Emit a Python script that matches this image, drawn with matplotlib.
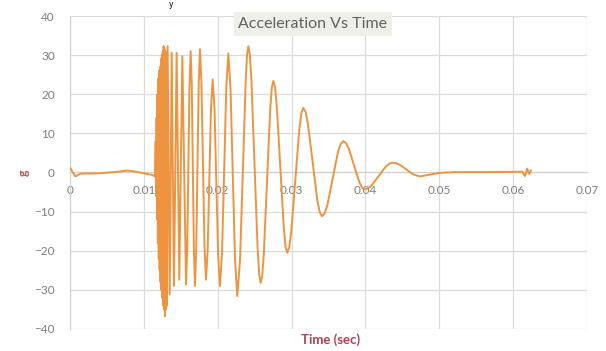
import matplotlib
matplotlib.use("Agg")
import matplotlib.pyplot as plt
from matplotlib.ticker import MultipleLocator

# zaman (s) ve ivme (g) okumalari
t_baslangic = [0.0, 0.0003, 0.0007, 0.0011, 0.0014, 0.004, 0.0065, 0.0077, 0.009, 0.0105, 0.0111]
a_baslangic = [1.2, 0.3, -1.0, -0.6, -0.3, -0.2, 0.2, 0.5, 0.2, -0.4, -0.6]

# yogun salinim bolgesi
t_yogun = [0.01150, 0.01160, 0.01166, 0.01172, 0.01178, 0.01184, 0.01190, 0.01196,
           0.01202, 0.01208, 0.01214, 0.01220, 0.01226, 0.01232, 0.01238, 0.01244,
           0.01250, 0.01256, 0.01262, 0.01268, 0.01274, 0.01280, 0.01286, 0.01292,
           0.01298, 0.01304, 0.01313]
a_yogun = [-1.0, 8, -6, 14, -12, 20, -18, 24,
           -22, 26, -25, 27, -28, 29, -30, 30,
           -32, 31, -34, 32.3, -35, 31.5, -36.7, 31,
           -35, 30, -34]

# hizli cevrimler
t_hizli = [0.01322, 0.0135, 0.01377, 0.01408, 0.01444, 0.0148, 0.01521, 0.01571,
           0.01587, 0.01603, 0.01618, 0.01634, 0.01649, 0.01663, 0.01678, 0.01692,
           0.01709, 0.01726, 0.01743, 0.0176, 0.0178, 0.01801, 0.01821, 0.01841,
           0.01864, 0.01887, 0.01909, 0.01932, 0.01957, 0.01982, 0.02006, 0.02031,
           0.02059, 0.02088, 0.02116, 0.02144, 0.02174, 0.02205, 0.02235, 0.02265,
           0.02303, 0.0234]
a_hizli = [32.3, -31.2, 30.6, -29, 30.6, -27.4, 29.7, -28.6,
           -19.9, 1.2, 22.3, 31, 22.2, 1, -20.2, -29,
           -20.1, 1.25, 22.6, 31.5, 22.9, 2.05, -18.8, -27.4,
           -19.9, -1.8, 16.3, 23.8, 16.1, -2.6, -21.3, -29,
           -20.3, 0.7, 21.7, 30.4, 21.3, -0.6, -22.5, -31.6,
           -22.2, 0.35]

# yavaslayan ve sonumlenen cevrimler
t_yavas = [0.02378, 0.02397, 0.02415, 0.02435, 0.02457, 0.02499, 0.0254, 0.02562,
           0.02582, 0.02603, 0.02625, 0.02668, 0.0271, 0.02732, 0.02753, 0.02776,
           0.028, 0.02848, 0.02895, 0.02919, 0.02942, 0.02968, 0.02996, 0.03051,
           0.03105, 0.03133, 0.03159, 0.0319, 0.03222, 0.03286, 0.03349, 0.03382,
           0.03412, 0.03447, 0.03484, 0.03556, 0.03628, 0.03665, 0.0370, 0.03735,
           0.03773, 0.03845, 0.03918, 0.03955, 0.0399, 0.04036, 0.04085, 0.0418,
           0.04275, 0.04324, 0.0437, 0.04414, 0.04463, 0.04555, 0.04648, 0.0474]
a_yavas = [22.9, 30.1, 32.3, 30.2, 23.4, 2.05, -19.3, -26.1,
           -28.2, -26.4, -20.6, -2.4, 15.8, 21.6, 23.4, 21.9,
           17.0, 1.45, -14.1, -19.0, -20.5, -19.2, -15.1, -2.0,
           11.1, 15.2, 16.5, 15.5, 12.4, 2.65, -7.1, -10.2,
           -11.2, -10.5, -8.4, -1.6, 5.2, 7.3, 8.0, 7.6,
           6.2, 1.85, -2.5, -3.9, -4.3, -4.06, -3.3, -0.9,
           1.5, 2.26, 2.5, 2.38, 2.0, 0.75, -0.5, -1.0]

# sonumlenme ve son kisim
t_son = [0.0488, 0.050, 0.052, 0.056, 0.0612, 0.0616, 0.0619, 0.0622, 0.0624]
a_son = [-0.5, -0.1, 0.1, 0.1, 0.2, -0.9, 1.0, -0.4, 0.5]

zaman = t_baslangic + t_yogun + t_hizli + t_yavas + t_son
ivme = a_baslangic + a_yogun + a_hizli + a_yavas + a_son

gri = "#7F7F7F"
fig = plt.figure(figsize=(6.06, 3.51), dpi=100)
ax = fig.add_axes([0.1155, 0.0627, 0.8531, 0.8917])

ax.plot(zaman, ivme, color="#EE9440", linewidth=1.4, solid_joinstyle="round", zorder=3)

ax.set_xlim(0, 0.07)
ax.set_ylim(-40, 40)
ax.yaxis.set_major_locator(MultipleLocator(10))
ax.set_xticks([0, 0.01, 0.02, 0.03, 0.04, 0.05, 0.06, 0.07])
ax.set_xticklabels(["0", "0.01", "0.02", "0.03", "0.04", "0.05", "0.06", "0.07"])
ax.grid(True, color="#DCDCDC", linewidth=0.9)
ax.set_axisbelow(True)

for s in ["top", "right"]:
    ax.spines[s].set_visible(False)
ax.spines["bottom"].set_position(("data", 0))
ax.spines["bottom"].set_color("#CFCFCF")
ax.spines["left"].set_color("#CFCFCF")
ax.tick_params(axis="x", length=0, pad=9, labelsize=8.5, labelcolor=gri)
ax.tick_params(axis="y", length=0, pad=11, labelsize=8.5, labelcolor=gri)
for lbl in ax.get_xticklabels() + ax.get_yticklabels():
    lbl.set_family("Lato")

ax.text(0.47, 0.975, "Acceleration Vs Time", transform=ax.transAxes, ha="center", va="center",
        fontsize=11.5, color="#606060", family="Lato",
        bbox=dict(boxstyle="square,pad=0.3", facecolor="#EFEFEA", edgecolor="none"))

fig.text(0.04, 0.508, "g", rotation=90, ha="center", va="center", fontsize=9,
         color="#C0504D", family="Lato", fontweight="bold")
fig.text(0.545, 0.032, "Time (sec)", ha="center", va="center", fontsize=9.5,
         color="#B0404F", family="Lato", fontweight="bold")
fig.text(0.283, 0.999, "y", ha="center", va="top", fontsize=5.5, color="black")

fig.savefig("out.png", dpi=100)
